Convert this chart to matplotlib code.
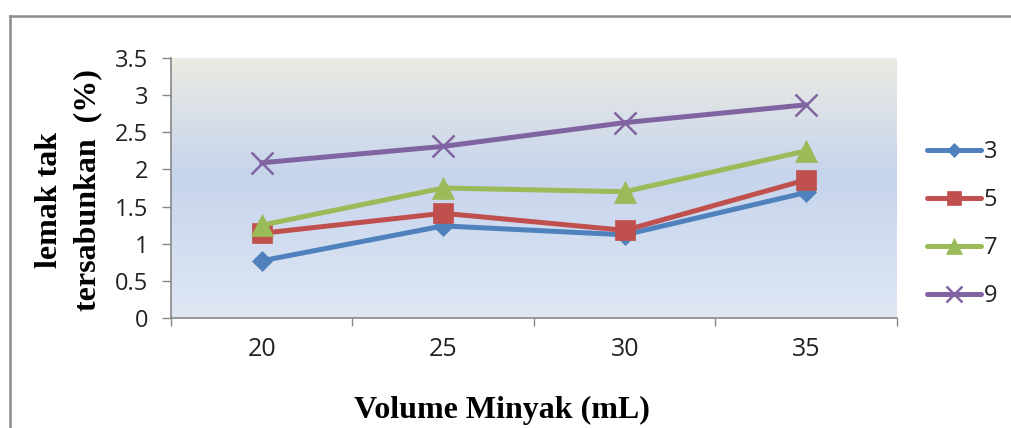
import numpy as np
import matplotlib
matplotlib.use("Agg")
import matplotlib.pyplot as plt
from matplotlib.colors import LinearSegmentedColormap
from matplotlib.lines import Line2D

categories = ["20", "25", "30", "35"]
series_names = ["3", "5", "7", "9"]
s3 = [0.77, 1.24, 1.12, 1.69]
s5 = [1.14, 1.41, 1.18, 1.86]
s7 = [1.25, 1.75, 1.70, 2.25]
s9 = [2.09, 2.31, 2.63, 2.87]
yticks = [0, 0.5, 1, 1.5, 2, 2.5, 3, 3.5]
ytick_labels = ["0", "0.5", "1", "1.5", "2", "2.5", "3", "3.5"]

colors = ["#4F81BD", "#C0504D", "#9BBB59", "#8064A2"]
markers = ["D", "s", "^", "x"]
msizes = [10.5, 14.5, 16, 16]

W, H = 1012, 428
fig = plt.figure(figsize=(W / 100, H / 100), dpi=100)

# outer chart border (top and left visible)
fig.add_artist(Line2D([10 / W, 1.0], [1 - 16 / H, 1 - 16 / H], color="#8C8C8C", lw=1.8))
fig.add_artist(Line2D([10 / W, 10 / W], [0, 1 - 16 / H], color="#8C8C8C", lw=1.8))

left, right, top, bottom = 171, 897, 58, 318
ax = fig.add_axes([left / W, 1 - bottom / H, (right - left) / W, (bottom - top) / H])

# gradient background
cmap = LinearSegmentedColormap.from_list(
    "bg", [(0.0, "#DFE7F4"), (0.55, "#C6D4EC"), (1.0, "#ECEBE3")])
grad = np.linspace(0, 1, 256).reshape(-1, 1)
ax.imshow(grad, aspect="auto", cmap=cmap, origin="lower",
          extent=[-0.5, len(categories) - 0.5, 0, 3.5], zorder=0)

x = np.arange(len(categories))
for vals, c, m, ms, name in zip([s3, s5, s7, s9], colors, markers, msizes, series_names):
    kw = dict(markeredgewidth=1.8) if m == "x" else dict(markeredgecolor=c, markeredgewidth=0.5)
    ax.plot(x, vals, color=c, lw=3.6, marker=m, markersize=ms, markerfacecolor=c,
            label=name, zorder=3, solid_capstyle="round", **kw)

ax.set_xlim(-0.5, len(categories) - 0.5)
ax.set_ylim(0, 3.5)
ax.set_yticks(yticks)
ax.set_yticklabels(ytick_labels)
ax.set_xticks(x)
ax.set_xticklabels(categories)
ax.set_xticks(np.arange(-0.5, len(categories), 1.0), minor=True)
ax.tick_params(axis="x", which="major", length=0, pad=14)
ax.tick_params(axis="x", which="minor", length=6, width=1, color="#888888", direction="out")
ax.tick_params(axis="y", length=6.5, width=1, color="#888888", pad=10)
for lab in ax.get_xticklabels():
    lab.set_fontfamily("Open Sans")
    lab.set_fontsize(18)
    lab.set_color("#222222")
for lab in ax.get_yticklabels():
    lab.set_fontfamily("Open Sans")
    lab.set_fontsize(17)
    lab.set_color("#222222")

for sp in ["top", "right"]:
    ax.spines[sp].set_visible(False)
for sp in ["left", "bottom"]:
    ax.spines[sp].set_color("#888888")
    ax.spines[sp].set_linewidth(1.2)

fig.text(50 / W, 1 - 200 / H, "lemak tak", rotation=90,
         ha="center", va="center", family="Liberation Serif", fontweight="bold",
         fontsize=23)
fig.text(88 / W, 1 - 190 / H, "tersabunkan  (%)", rotation=90,
         ha="center", va="center", family="Liberation Serif", fontweight="bold",
         fontsize=23)
fig.text(502 / W, 1 - 410 / H, "Volume Minyak (mL)", ha="center", va="center",
         family="Liberation Serif", fontweight="bold", fontsize=23)

leg = ax.legend(loc="center left", bbox_to_anchor=(927 / W, 1 - 224 / H),
                bbox_transform=fig.transFigure, frameon=False, borderpad=0,
                borderaxespad=0,
                prop={"family": "Open Sans", "size": 17}, handlelength=2.3,
                handletextpad=0.1, labelspacing=1.02, markerscale=0.7)
for t in leg.get_texts():
    t.set_color("#222222")

fig.savefig("out.png", dpi=100)
